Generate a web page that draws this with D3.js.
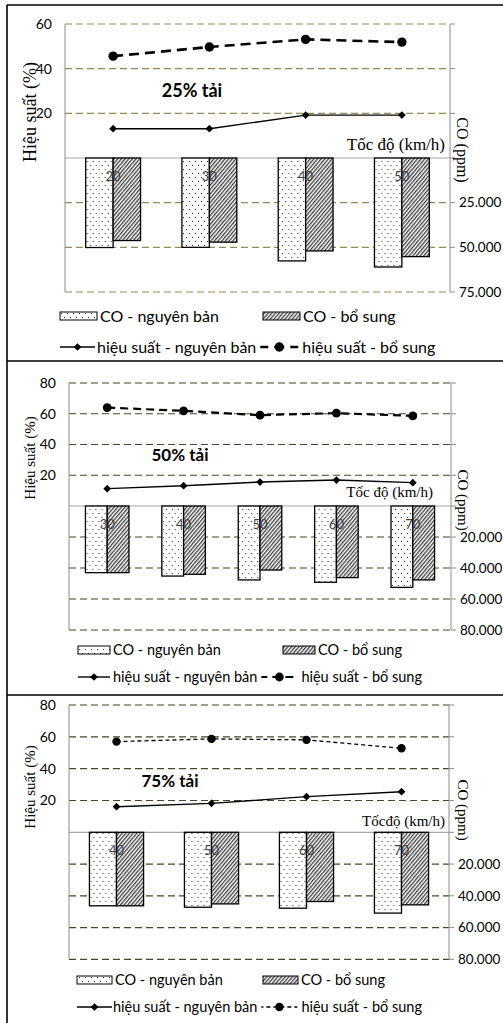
<!DOCTYPE html>
<html>
<head>
<meta charset="utf-8">
<script src="https://cdn.jsdelivr.net/npm/d3@7"></script>
<style>
  body { margin: 0; background: #fff; }
  svg { display: block; }
  .sans { font-family: Lato, "Open Sans", sans-serif; }
  .serif { font-family: "Liberation Serif", "DejaVu Serif", serif; }
</style>
</head>
<body>
<div id="chart"></div>
<script>
// ---- data ----
const speeds25 = [20, 30, 40, 50];
const eff25Orig = [13.1, 13.1, 19.2, 19.2];
const eff25Sup = [45.6, 49.7, 53.1, 51.9];
const co25Orig = [50100, 50000, 57600, 61000];
const co25Sup = [46200, 47100, 52000, 55200];
const effTicks25 = [20, 40, 60];
const coTicks25 = [25000, 50000, 75000];

const speeds50 = [30, 40, 50, 60, 70];
const eff50Orig = [11.3, 13.2, 15.6, 16.9, 15.2];
const eff50Sup = [64.0, 61.9, 59.1, 60.4, 58.6];
const co50Orig = [43000, 45200, 47700, 49200, 52500];
const co50Sup = [43000, 44100, 41300, 46200, 47700];
const effTicks50 = [20, 40, 60, 80];
const coTicks50 = [20000, 40000, 60000, 80000];

const speeds75 = [40, 50, 60, 70];
const eff75Orig = [16.1, 18.2, 22.4, 25.5];
const eff75Sup = [57.0, 58.7, 58.1, 52.8];
const co75Orig = [46300, 47200, 47800, 50900];
const co75Sup = [46300, 45100, 43600, 45700];
const effTicks75 = [20, 40, 60, 80];
const coTicks75 = [20000, 40000, 60000, 80000];

const legendNames = ["CO - nguyên bản", "CO - bổ sung", "hiệu suất - nguyên bản", "hiệu suất - bổ sung"];

const W = 503, H = 1023;

const panels = [
  { title: "25% tải", xTitle: "Tốc độ (km/h)", speeds: speeds25,
    effOrig: eff25Orig, effSup: eff25Sup, coOrig: co25Orig, coSup: co25Sup,
    effTicks: effTicks25, coTicks: coTicks25,
    L: { x0: 65, x1: 450, top: 24, zero: 158, bottom: 292, grid: "#948a54",
         yTitle: [30, 112, 18], xT: [445, 144, 17], coT: [463, 150, 16], ttl: [192, 91, 18],
         r: 4.7, supDash: "10,6", supW: 2.6, fs: 16,
         leg1: { y: 316, s1: 60, s2: 263, sw: 37 },
         leg2: { y: 347, l1: 60, lw: 35, t1: 97, dw: 38 } } },
  { title: "50% tải", xTitle: "Tốc độ (km/h)", speeds: speeds50,
    effOrig: eff50Orig, effSup: eff50Sup, coOrig: co50Orig, coSup: co50Sup,
    effTicks: effTicks50, coTicks: coTicks50,
    L: { x0: 69, x1: 451, top: 383, zero: 506, bottom: 630, grid: "#4a4529",
         yTitle: [30, 458, 15], xT: [433, 492, 15], coT: [463, 500, 15], ttl: [180, 455, 17],
         r: 4.4, supDash: "8,5", supW: 2.2, fs: 14.5,
         leg1: { y: 650, s1: 78, s2: 283, sw: 32 },
         leg2: { y: 677, l1: 78, lw: 32, t1: 113, dw: 36 } } },
  { title: "75% tải", xTitle: "Tốcđộ (km/h)", speeds: speeds75,
    effOrig: eff75Orig, effSup: eff75Sup, coOrig: co75Orig, coSup: co75Sup,
    effTicks: effTicks75, coTicks: coTicks75,
    L: { x0: 69, x1: 449, top: 705, zero: 832.3, bottom: 959.3, grid: "#4a4529",
         yTitle: [30, 787, 15], xT: [445, 821, 15], coT: [463, 810, 15], ttl: [170, 781, 17],
         r: 4.2, supDash: "4,3", supW: 1.3, fs: 14.5,
         leg1: { y: 980, s1: 77, s2: 263, sw: 35 },
         leg2: { y: 1007, l1: 77, lw: 35, t1: 113, dw: 36 } } }
];

const svg = d3.select("#chart").append("svg")
  .attr("width", W).attr("height", H);

// fill patterns
const defs = svg.append("defs");
const dots = defs.append("pattern").attr("id", "dots")
  .attr("width", 6).attr("height", 8).attr("patternUnits", "userSpaceOnUse");
dots.append("rect").attr("width", 6).attr("height", 8).attr("fill", "#fff");
dots.append("rect").attr("x", 1).attr("y", 1).attr("width", 1).attr("height", 1).attr("fill", "#333");
dots.append("rect").attr("x", 4).attr("y", 5).attr("width", 1).attr("height", 1).attr("fill", "#333");

const hatch = defs.append("pattern").attr("id", "hatch")
  .attr("width", 2.8).attr("height", 2.8).attr("patternUnits", "userSpaceOnUse")
  .attr("patternTransform", "rotate(40)");
hatch.append("rect").attr("width", 2.8).attr("height", 2.8).attr("fill", "#fff");
hatch.append("line").attr("x1", 0.7).attr("y1", 0).attr("x2", 0.7).attr("y2", 2.8)
  .attr("stroke", "#2a2a2a").attr("stroke-width", 1.2);

// frame lines
svg.append("line").attr("x1", 7).attr("x2", W).attr("y1", 5).attr("y2", 5)
  .attr("stroke", "#000").attr("stroke-width", 1.6);
svg.append("line").attr("x1", 7).attr("x2", 7).attr("y1", 5).attr("y2", H)
  .attr("stroke", "#000").attr("stroke-width", 1.6);
[361, 695].forEach(function (y) {
  svg.append("line").attr("x1", 7).attr("x2", W).attr("y1", y).attr("y2", y)
    .attr("stroke", "#000").attr("stroke-width", 1.6);
});

const diamond = d3.symbol().type(d3.symbolSquare).size(30);
const coFmt = d => d3.format(",")(d).replace(/,/g, ".");

panels.forEach(function (p) {
  const L = p.L;
  const g = svg.append("g");

  const effMax = d3.max(p.effTicks);
  const coMax = d3.max(p.coTicks);

  const x = d3.scaleBand().domain(p.speeds).range([L.x0, L.x1]);
  const groupW = x.bandwidth() * 0.57;
  const xs = d3.scaleBand().domain([0, 1]).range([0, groupW]);
  const yEff = d3.scaleLinear().domain([0, effMax]).range([L.zero, L.top]);
  const yCo = d3.scaleLinear().domain([0, coMax]).range([L.zero, L.bottom]);

  // gridlines
  g.selectAll(".ge").data(p.effTicks).enter().append("line")
    .attr("x1", L.x0).attr("x2", L.x1)
    .attr("y1", d => yEff(d)).attr("y2", d => yEff(d))
    .attr("stroke", L.grid).attr("stroke-width", 1.2).attr("stroke-dasharray", "7,4");
  g.selectAll(".gc").data(p.coTicks).enter().append("line")
    .attr("x1", L.x0).attr("x2", L.x1)
    .attr("y1", d => yCo(d)).attr("y2", d => yCo(d))
    .attr("stroke", L.grid).attr("stroke-width", 1.2).attr("stroke-dasharray", "7,4");

  // zero line and side axes
  g.append("line").attr("x1", L.x0).attr("x2", L.x1).attr("y1", L.zero).attr("y2", L.zero)
    .attr("stroke", "#a6a6a6").attr("stroke-width", 1.2);
  g.append("line").attr("x1", L.x0).attr("x2", L.x0).attr("y1", L.top).attr("y2", L.bottom)
    .attr("stroke", "#8c8c8c").attr("stroke-width", 1);

  // right axis (CO, reversed downwards) with outward ticks
  const rightAxis = g.append("g").attr("transform", "translate(" + L.x1 + ",0)");
  rightAxis.append("line").attr("y1", L.top).attr("y2", L.bottom)
    .attr("stroke", "#8c8c8c").attr("stroke-width", 1);
  const tickYs = p.effTicks.map(yEff).concat([L.zero]).concat(p.coTicks.map(yCo));
  rightAxis.selectAll(".tk").data(tickYs).enter().append("line")
    .attr("x1", 0).attr("x2", 5).attr("y1", d => d).attr("y2", d => d)
    .attr("stroke", "#8c8c8c").attr("stroke-width", 1);
  rightAxis.selectAll(".tl").data(p.coTicks).enter().append("text")
    .attr("class", "sans").attr("x", 9).attr("y", d => yCo(d)).attr("dy", "0.35em")
    .attr("font-size", 13.5).attr("fill", "#000")
    .text(coFmt);

  // left tick labels
  g.selectAll(".ll").data(p.effTicks).enter().append("text")
    .attr("class", "sans").attr("x", L.x0 - 13).attr("y", d => yEff(d)).attr("dy", "0.35em")
    .attr("text-anchor", "end").attr("font-size", 14).text(d => d);

  // bars (CO)
  const bars = g.selectAll(".bar").data(p.speeds).enter().append("g")
    .attr("transform", d => "translate(" + (x(d) + (x.bandwidth() - groupW) / 2) + ",0)");
  bars.append("rect")
    .attr("x", xs(0)).attr("width", xs.bandwidth())
    .attr("y", L.zero).attr("height", (d, i) => yCo(p.coOrig[i]) - L.zero)
    .attr("fill", "url(#dots)").attr("stroke", "#000").attr("stroke-width", 1.3);
  bars.append("rect")
    .attr("x", xs(1)).attr("width", xs.bandwidth())
    .attr("y", L.zero).attr("height", (d, i) => yCo(p.coSup[i]) - L.zero)
    .attr("fill", "url(#hatch)").attr("stroke", "#000").attr("stroke-width", 1.3);

  // category labels
  g.selectAll(".cat").data(p.speeds).enter().append("text")
    .attr("class", "sans").attr("x", d => x(d) + x.bandwidth() / 2).attr("y", L.zero + 18)
    .attr("dy", "0.35em").attr("text-anchor", "middle").attr("font-size", 13)
    .attr("fill", "#404040").text(d => d);

  // efficiency lines
  const cx = d => x(d) + x.bandwidth() / 2;
  const line = d3.line().x(d => cx(d[0])).y(d => yEff(d[1]));
  const origPts = p.speeds.map((s, i) => [s, p.effOrig[i]]);
  const supPts = p.speeds.map((s, i) => [s, p.effSup[i]]);

  g.append("path").attr("d", line(supPts)).attr("fill", "none")
    .attr("stroke", "#000").attr("stroke-width", L.supW).attr("stroke-dasharray", L.supDash);
  g.selectAll(".cs").data(supPts).enter().append("circle")
    .attr("cx", d => cx(d[0])).attr("cy", d => yEff(d[1])).attr("r", L.r).attr("fill", "#000");

  g.append("path").attr("d", line(origPts)).attr("fill", "none")
    .attr("stroke", "#000").attr("stroke-width", 1.4);
  g.selectAll(".dm").data(origPts).enter().append("path")
    .attr("d", diamond)
    .attr("transform", d => "translate(" + cx(d[0]) + "," + yEff(d[1]) + ") rotate(45)")
    .attr("fill", "#000");

  // texts
  g.append("text").attr("class", "serif")
    .attr("transform", "translate(" + L.yTitle[0] + "," + L.yTitle[1] + ") rotate(-90)")
    .attr("text-anchor", "middle").attr("dy", "0.35em").attr("font-size", L.yTitle[2])
    .text("Hiệu suất (%)");
  g.append("text").attr("class", "serif")
    .attr("transform", "translate(" + L.coT[0] + "," + L.coT[1] + ") rotate(90)")
    .attr("text-anchor", "middle").attr("dy", "0.35em").attr("font-size", L.coT[2])
    .text("CO (ppm)");
  g.append("text").attr("class", "serif")
    .attr("x", L.xT[0]).attr("y", L.xT[1]).attr("dy", "0.35em")
    .attr("text-anchor", "end").attr("font-size", L.xT[2]).text(p.xTitle);
  g.append("text").attr("class", "sans")
    .attr("x", L.ttl[0]).attr("y", L.ttl[1]).attr("dy", "0.35em")
    .attr("text-anchor", "middle").attr("font-size", L.ttl[2]).attr("font-weight", "bold")
    .text(p.title);

  // legend row 1
  const l1 = L.leg1;
  [["url(#dots)", l1.s1, legendNames[0]], ["url(#hatch)", l1.s2, legendNames[1]]].forEach(function (e) {
    g.append("rect").attr("x", e[1]).attr("y", l1.y - 4).attr("width", l1.sw).attr("height", 8)
      .attr("fill", e[0]).attr("stroke", "#000").attr("stroke-width", 1);
    g.append("text").attr("class", "sans").attr("x", e[1] + l1.sw + 3).attr("y", l1.y)
      .attr("dy", "0.35em").attr("font-size", L.fs).text(e[2]);
  });

  // legend row 2
  const l2 = L.leg2;
  g.append("line").attr("x1", l2.l1).attr("x2", l2.l1 + l2.lw).attr("y1", l2.y).attr("y2", l2.y)
    .attr("stroke", "#000").attr("stroke-width", 1.4);
  g.append("path").attr("d", diamond)
    .attr("transform", "translate(" + (l2.l1 + l2.lw / 2) + "," + l2.y + ") rotate(45)");
  const t1 = g.append("text").attr("class", "sans").attr("x", l2.t1).attr("y", l2.y)
    .attr("dy", "0.35em").attr("font-size", L.fs).text(legendNames[2]);
  const d1 = l2.t1 + t1.node().getComputedTextLength() + 4;
  g.append("line").attr("x1", d1).attr("x2", d1 + l2.dw).attr("y1", l2.y).attr("y2", l2.y)
    .attr("stroke", "#000").attr("stroke-width", L.supW).attr("stroke-dasharray", L.supDash)
    .attr("stroke-dashoffset", 2);
  g.append("circle").attr("cx", d1 + l2.dw / 2).attr("cy", l2.y).attr("r", L.r).attr("fill", "#000");
  g.append("text").attr("class", "sans").attr("x", d1 + l2.dw + 4).attr("y", l2.y)
    .attr("dy", "0.35em").attr("font-size", L.fs).text(legendNames[3]);
});
</script>
</body>
</html>
